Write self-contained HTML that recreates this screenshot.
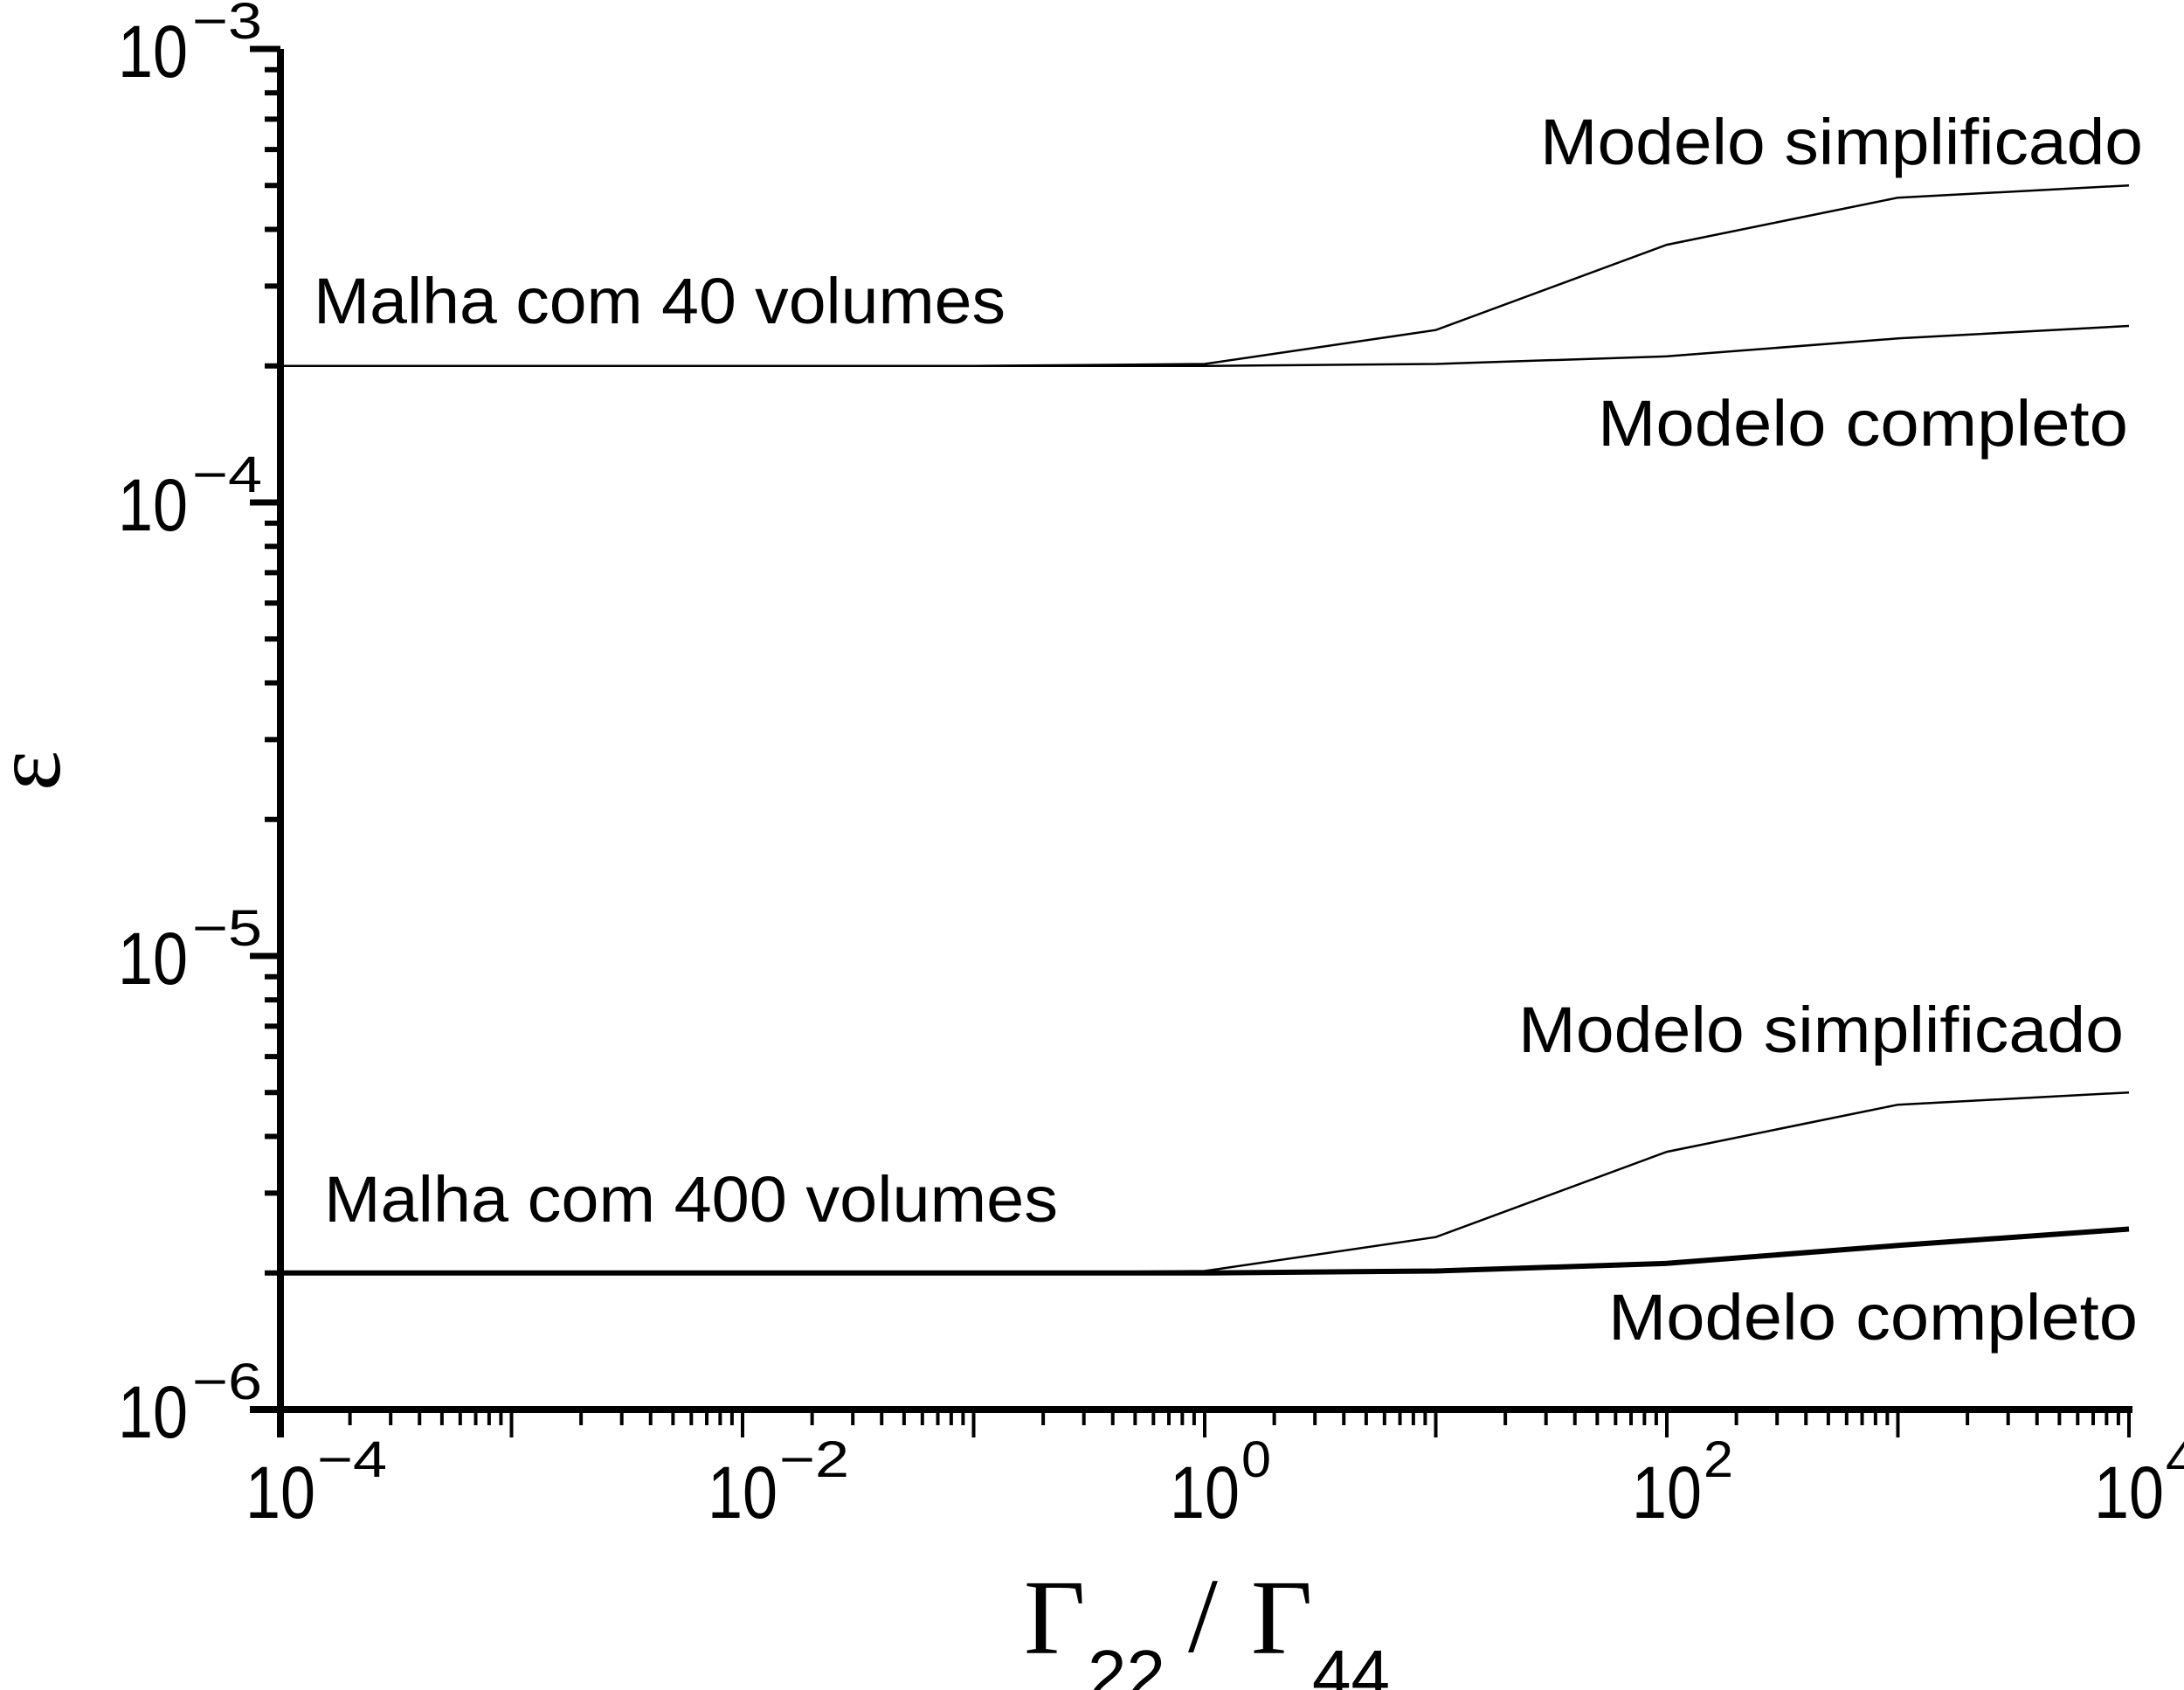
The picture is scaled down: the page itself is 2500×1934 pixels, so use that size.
<!DOCTYPE html>
<html><head><meta charset="utf-8"><style>
html,body{margin:0;padding:0;background:#fff;}
svg{display:block;}
text{font-family:"Liberation Sans",Arial,sans-serif;fill:#000;}
</style></head><body>
<svg id="chart" width="2500" height="1934" viewBox="0 0 2500 1934" xmlns="http://www.w3.org/2000/svg">
<g id="axes"></g>
<g id="series"></g>
<g id="labels">
<text x="1763" y="188" font-size="74" textLength="690" lengthAdjust="spacingAndGlyphs">Modelo  simplificado</text>
<text x="359" y="370" font-size="74" textLength="792" lengthAdjust="spacingAndGlyphs">Malha com 40 volumes</text>
<text x="1829" y="510" font-size="74" textLength="607" lengthAdjust="spacingAndGlyphs">Modelo  completo</text>
<text x="1738" y="1204" font-size="74" textLength="693" lengthAdjust="spacingAndGlyphs">Modelo  simplificado</text>
<text x="371" y="1398" font-size="74" textLength="840" lengthAdjust="spacingAndGlyphs">Malha com 400 volumes</text>
<text x="1841" y="1533" font-size="74" textLength="606" lengthAdjust="spacingAndGlyphs">Modelo  completo</text>
<g>
<text x="1172" y="1892" font-size="122" style="font-family:'Liberation Serif',serif">Γ</text>
<text x="1245" y="1944" font-size="80">22</text>
<text x="1360" y="1890" font-size="122" style="font-family:'Liberation Serif',serif">/</text>
<text x="1432" y="1892" font-size="122" style="font-family:'Liberation Serif',serif">Γ</text>
<text x="1502" y="1944" font-size="80">44</text>
</g>
<text transform="translate(68,882) rotate(-90)" text-anchor="middle" font-size="110" style="font-family:'Liberation Serif',serif">ε</text>
</g>
</svg>
<script>
const xExp = [-4, -3, -2, -1, 0, 1, 2, 3, 4];
const simp40 = [2.0e-4, 2.0e-4, 2.0e-4, 2.0e-4, 2.02e-4, 2.4e-4, 3.7e-4, 4.7e-4, 5.0e-4];
const comp40 = [2.0e-4, 2.0e-4, 2.0e-4, 2.0e-4, 2.0e-4, 2.02e-4, 2.1e-4, 2.3e-4, 2.45e-4];
const simp400 = [2.0e-6, 2.0e-6, 2.0e-6, 2.0e-6, 2.02e-6, 2.4e-6, 3.7e-6, 4.7e-6, 5.0e-6];
const comp400 = [2.0e-6, 2.0e-6, 2.0e-6, 2.0e-6, 2.0e-6, 2.02e-6, 2.1e-6, 2.3e-6, 2.5e-6];
const xTickLabels = ["-4", "-2", "0", "2", "4"];
const yTickLabels = ["-3", "-4", "-5", "-6"];

const NS = "http://www.w3.org/2000/svg";
const X0 = 321, X1 = 2437, Y0 = 1613, Y1 = 56;
function xs(e){ return X0 + (e + 4) / 8 * (X1 - X0); }
function ys(v){ return Y0 - (Math.log10(v) + 6) / 3 * (Y0 - Y1); }
function mk(tag, attrs, parent){ const el = document.createElementNS(NS, tag); for (const k in attrs) el.setAttribute(k, attrs[k]); parent.appendChild(el); return el; }
const axes = document.getElementById('axes');
const series = document.getElementById('series');

let el = mk('line', {x1: X0, y1: Y1, x2: X0, y2: Y0 + 32, stroke: '#000', 'stroke-width': 8}, axes);


el = mk('line', {x1: X0 - 35, y1: Y0, x2: X1 + 4, y2: Y0, stroke: '#000', 'stroke-width': 8}, axes);



for (let d = -6; d < -3; d++) {
  for (let m = 2; m <= 9; m++) {
    const y = ys(m * Math.pow(10, d));
    el = mk('line', {x1: X0 - 18, y1: y, x2: X0, y2: y, stroke: '#000', 'stroke-width': 6}, axes);
    
    
  }
}
yTickLabels.forEach(function(lbl){
  const y = ys(Math.pow(10, Number(lbl)));
  el = mk('line', {x1: X0 - 35, y1: y, x2: X0, y2: y, stroke: '#000', 'stroke-width': 7}, axes);
  
  
  const t = mk('text', {x: 135, y: y + 32, 'font-size': 84, textLength: 80, lengthAdjust: 'spacingAndGlyphs'}, axes);
  t.textContent = '10';
  
  
  const s = mk('text', {x: 220, y: y - 12, 'font-size': 58, textLength: 80, lengthAdjust: 'spacingAndGlyphs'}, axes);
  s.textContent = '\u2212' + lbl.replace('-', '');
  
  
});
for (let d = -4; d < 4; d++) {
  for (let m = 2; m <= 9; m++) {
    const x = xs(d + Math.log10(m));
    el = mk('line', {x1: x, y1: Y0, x2: x, y2: Y0 + 18, stroke: '#000', 'stroke-width': 4}, axes);
    
    
  }
}
for (let d = -4; d <= 4; d++) {
  const x = xs(d);
  el = mk('line', {x1: x, y1: Y0, x2: x, y2: Y0 + 32, stroke: '#000', 'stroke-width': 4}, axes);
  
  
}
xTickLabels.forEach(function(lbl){
  const x = xs(Number(lbl));
  const t = mk('text', {x: x - 40, y: 1737, 'font-size': 84, textLength: 80, lengthAdjust: 'spacingAndGlyphs'}, axes);
  t.textContent = '10';
  
  
  const neg = Number(lbl) < 0;
  const s = mk('text', {x: x + 42, y: 1690, 'font-size': 58, textLength: neg ? 80 : 34, lengthAdjust: 'spacingAndGlyphs'}, axes);
  s.textContent = neg ? '\u2212' + lbl.replace('-', '') : lbl;
  
  
});

function drawLine(vals, w, name){
  const pts = vals.map(function(v, i){ return xs(xExp[i]).toFixed(1) + ',' + ys(v).toFixed(1); }).join(' ');
  const p = mk('polyline', {points: pts, fill: 'none', stroke: '#000', 'stroke-width': w}, series);
  
  
}
drawLine(simp40, 2.5, 'line-simplificado-40');
drawLine(comp40, 2.5, 'line-completo-40');
drawLine(simp400, 2.5, 'line-simplificado-400');
drawLine(comp400, 6, 'line-completo-400');
</script>
</body></html>
